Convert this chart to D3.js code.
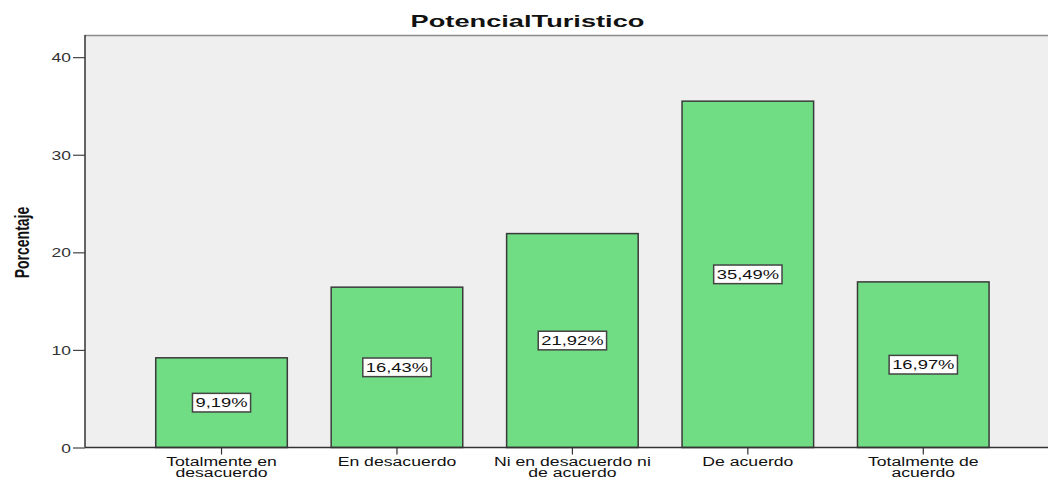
<!DOCTYPE html>
<html><head><meta charset="utf-8">
<script src="https://cdn.jsdelivr.net/npm/d3@7"></script>
<style>body{margin:0;background:#fff}svg{display:block}</style>
</head><body>
<script>
const categories = [["Totalmente en","desacuerdo"],["En desacuerdo"],["Ni en desacuerdo ni","de acuerdo"],["De acuerdo"],["Totalmente de","acuerdo"]];
const values = [9.19, 16.43, 21.92, 35.49, 16.97];
const valueLabels = ["9,19%","16,43%","21,92%","35,49%","16,97%"];
const yTicks = [0,10,20,30,40];

const W = 1048, H = 479;
const pLeft = 85, pRight = 1048, pTop = 35, pBottom = 447.5;
const SX = 1.47; // horizontal stretch of the text in the reference
const FONT = "Liberation Sans, Arial, sans-serif";
const svg = d3.select("body").append("svg").attr("width", W).attr("height", H);

const x = d3.scaleBand().domain(d3.range(categories.length)).range([133.8, 1011]).paddingInner(0.25).paddingOuter(0.125);
const y = d3.scaleLinear().domain([0, 42.27]).range([pBottom, pTop]);

svg.append("rect").attr("x", pLeft).attr("y", pTop).attr("width", pRight - pLeft).attr("height", pBottom - pTop).attr("fill", "#efefef");
svg.append("line").attr("x1", pLeft).attr("x2", pRight).attr("y1", pTop + 0.5).attr("y2", pTop + 0.5).attr("stroke", "#8a8a8a").attr("stroke-width", 1.5);

svg.selectAll("rect.bar").data(values).join("rect").attr("class", "bar")
  .attr("x", (d, i) => x(i)).attr("y", d => y(d))
  .attr("width", x.bandwidth()).attr("height", d => pBottom - y(d))
  .attr("fill", "#70dc84").attr("stroke", "#3a3a3a").attr("stroke-width", 1.5);

// value labels
const lab = svg.selectAll("g.lab").data(values).join("g").attr("class", "lab")
  .attr("transform", (d, i) => `translate(${x(i) + x.bandwidth() / 2},${(y(d) + pBottom) / 2})`);
lab.append("rect").attr("class", "box");
lab.append("g").attr("transform", `scale(${SX},1)`).append("text").text((d, i) => valueLabels[i])
  .attr("text-anchor", "middle").attr("dy", "0.36em")
  .attr("font-family", FONT).attr("font-size", 12.5).attr("fill", "#111");
lab.each(function () {
  const g = d3.select(this);
  const b = g.select("text").node().getBBox();
  const w = b.width * SX + 6;
  g.select("rect.box").attr("x", -w / 2).attr("y", -9.3).attr("width", w).attr("height", 18.6)
    .attr("fill", "#fff").attr("stroke", "#444").attr("stroke-width", 1.5);
});

// y axis
const yAxis = svg.append("g").attr("transform", `translate(${pLeft},0)`)
  .call(d3.axisLeft(y).tickValues(yTicks).tickSize(12).tickSizeOuter(0).tickFormat(""));
yAxis.select(".domain").remove();
yAxis.append("line").attr("x1", 0).attr("x2", 0).attr("y1", pTop).attr("y2", pBottom).attr("stroke", "#333").attr("stroke-width", 1.5);
yAxis.selectAll(".tick line").attr("stroke", "#444").attr("stroke-width", 1.2);
yAxis.selectAll(".tick").append("g").attr("transform", `translate(-14,0) scale(${SX * 0.95},1)`)
  .append("text").text(d => d).attr("text-anchor", "end").attr("dy", "0.36em")
  .attr("font-family", FONT).attr("font-size", 12.5).attr("fill", "#333");

// x axis
const xAxis = svg.append("g").attr("transform", `translate(0,${pBottom})`)
  .call(d3.axisBottom(x).tickSize(7).tickSizeOuter(0).tickFormat(""));
xAxis.select(".domain").remove();
xAxis.append("line").attr("x1", pLeft).attr("x2", pRight).attr("stroke", "#333").attr("stroke-width", 1.5);
xAxis.selectAll(".tick line").attr("stroke", "#333").attr("stroke-width", 1.2);
xAxis.selectAll(".tick").each(function (d) {
  const t = d3.select(this).append("g").attr("transform", `scale(${SX},1)`).append("text").attr("text-anchor", "middle")
    .attr("font-family", FONT).attr("font-size", 12).attr("fill", "#111");
  categories[d].forEach((line, k) => t.append("tspan").attr("x", 0).attr("y", 18.7 + k * 11).text(line));
});

svg.append("g").attr("transform", "translate(527.5,27) scale(1.65,1)").append("text")
  .attr("text-anchor", "middle")
  .attr("font-family", FONT).attr("font-weight", "bold").attr("font-size", 16.5)
  .attr("fill", "#111").text("PotencialTuristico");

svg.append("g").attr("transform", "translate(28.5,242.5) scale(1.5,1) rotate(-90)").append("text")
  .attr("text-anchor", "middle")
  .attr("font-family", FONT).attr("font-weight", "bold").attr("font-size", 14)
  .attr("fill", "#111").text("Porcentaje");
</script>
</body></html>
